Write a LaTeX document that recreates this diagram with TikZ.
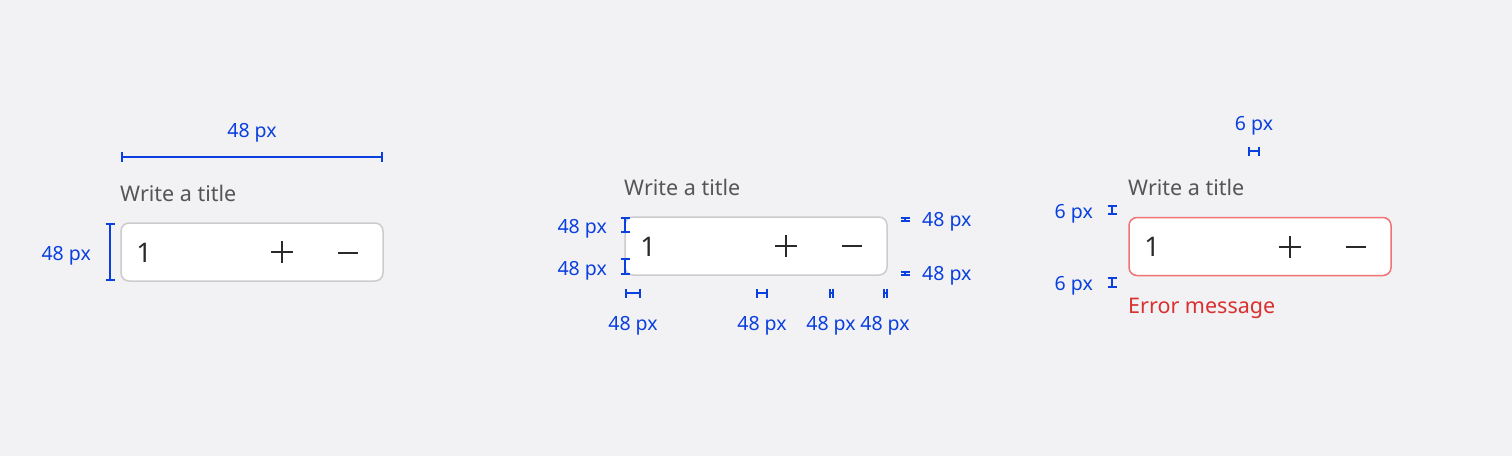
\documentclass[tikz,border=0pt]{standalone}
\usepackage{fontspec}
\setmainfont{Noto Sans}
\usetikzlibrary{arrows.meta,positioning}

\definecolor{dimblue}{HTML}{0A3FE0}
\definecolor{pagebg}{HTML}{F2F2F4}
\definecolor{boxline}{HTML}{CCCCCC}
\definecolor{errline}{HTML}{F07272}
\definecolor{errtext}{HTML}{D93030}
\definecolor{titletext}{HTML}{555555}
\definecolor{valuetext}{HTML}{2A2A2A}

\tikzset{
    stepper/.style = {draw=boxline, line width=1.5pt, fill=white, rounded corners=8pt,
        minimum width=262pt, minimum height=58pt, inner sep=0pt},
    dimline/.style = {draw=dimblue, line width=2pt,
        {Bar[width=10pt, line width=2pt]}-{Bar[width=10pt, line width=2pt]}},
    smalldim/.style = {draw=dimblue, line width=2pt,
        {Bar[width=9pt, line width=2pt]}-{Bar[width=9pt, line width=2pt]}},
    dimlabel/.style = {text=dimblue, font=\fontsize{19.5}{22}\selectfont, inner sep=0pt, yshift=-2.5pt},
    titlelabel/.style = {text=titletext, font=\fontsize{21.5}{24}\selectfont, inner sep=0pt, anchor=west},
    valuelabel/.style = {text=valuetext, font=\fontsize{27}{30}\selectfont, inner sep=0pt},
    icon/.style = {draw=valuetext, line width=1.8pt},
}

\begin{document}
\begin{tikzpicture}[x=1pt, y=-1pt]
    \fill[pagebg] (0,0) rectangle (1512,456);
    \useasboundingbox (0,0) rectangle (1512,456);

    % default stepper with outer sizes
    \begin{scope}
        \node[titlelabel] (titleA) at (120,193) {Write a title};
        \node[stepper] (boxA) at (252,252) {};
        \node[valuelabel] (valueA) at (144,253) {1};
        \draw[icon] (271,252) -- (293,252) (282,241) -- (282,263);
        \draw[icon] (338,253) -- (358,253);

        \coordinate (topL) at (121,157);
        \coordinate (topR) at (383,157);
        \draw[dimline] (topL) -- (topR);
        \node[dimlabel] (widthA) at (252,130) {48 px};

        \coordinate (sideT) at (110,223);
        \coordinate (sideB) at (110,281);
        \draw[smalldim] (sideT) -- (sideB);
        \node[dimlabel, anchor=east] (heightA) at (91,253) {48 px};
    \end{scope}

    % stepper with inner paddings
    \begin{scope}
        \node[titlelabel] (titleB) at (624,187) {Write a title};
        \node[stepper] (boxB) at (756,246) {};
        \node[valuelabel] (valueB) at (648,247) {1};
        \draw[icon] (775,246) -- (797,246) (786,235) -- (786,257);
        \draw[icon] (842,246) -- (862,246);

        % left paddings
        \foreach \ya/\yb/\yl/\n in {217/233/226/1, 258/275/268/2}{
            \coordinate (lt\n) at (625,\ya);
            \coordinate (lb\n) at (625,\yb);
            \draw[smalldim] (lt\n) -- (lb\n);
            \node[dimlabel, anchor=east] (lpad\n) at (607,\yl) {48 px};
        }

        % right paddings
        \foreach \ya/\yb/\yl/\n in {216.5/221.5/219/1, 270.5/275.5/273/2}{
            \coordinate (rt\n) at (905,\ya);
            \coordinate (rb\n) at (905,\yb);
            \draw[smalldim] (rt\n) -- (rb\n);
            \node[dimlabel, anchor=west] (rpad\n) at (922,\yl) {48 px};
        }

        % bottom spacings
        \foreach \xa/\xb/\n in {625/641/1, 756/768/2, 828.5/833.5/3, 882.5/887.5/4}{
            \coordinate (bl\n) at (\xa,293);
            \coordinate (br\n) at (\xb,293);
            \draw[smalldim] (bl\n) -- (br\n);
            \node[dimlabel] (bpad\n) at ({(\xa+\xb)/2},323) {48 px};
        }
    \end{scope}

    % error state
    \begin{scope}
        \node[titlelabel] (titleC) at (1128,187) {Write a title};
        \node[stepper, draw=errline] (boxC) at (1260,246.5) {};
        \node[valuelabel] (valueC) at (1152,247) {1};
        \draw[icon] (1279,247) -- (1301,247) (1290,236) -- (1290,258);
        \draw[icon] (1346,247) -- (1366,247);
        \node[text=errtext, font=\fontsize{21.5}{24}\selectfont, inner sep=0pt, anchor=west] (errC) at (1128,308) {Error message};

        \coordinate (gapL) at (1248,151);
        \coordinate (gapR) at (1260,151);
        \draw[smalldim] (gapL) -- (gapR);
        \node[dimlabel] (gapC) at (1254,123) {6 px};

        \foreach \ya/\yb/\yl/\n in {205/215/211/1, 277/288/283/2}{
            \coordinate (et\n) at (1112,\ya);
            \coordinate (eb\n) at (1112,\yb);
            \draw[smalldim] (et\n) -- (eb\n);
            \node[dimlabel, anchor=east] (epad\n) at (1093,\yl) {6 px};
        }
    \end{scope}
\end{tikzpicture}
\end{document}
